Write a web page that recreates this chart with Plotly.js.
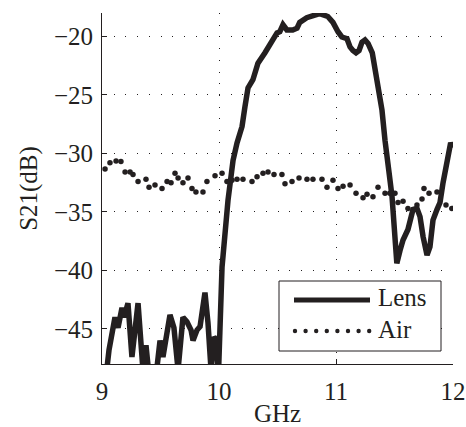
<!DOCTYPE html>
<html>
<head>
<meta charset="utf-8">
<script src="https://cdn.plot.ly/plotly-3.0.1.min.js"></script>
<style>html,body{margin:0;padding:0;background:#fff;}#chart{width:466px;height:427px;}</style>
</head>
<body>
<div id="chart"></div>
<script>
var lensX = [9.00, 9.043, 9.06, 9.111, 9.137, 9.171, 9.188, 9.222, 9.256, 9.308, 9.35, 9.376, 9.402, 9.462, 9.496, 9.521, 9.581, 9.615, 9.65, 9.692, 9.726, 9.761, 9.778, 9.812, 9.838, 9.88, 9.906, 9.932, 9.957, 9.975, 9.995, 10.026, 10.077, 10.12, 10.154, 10.197, 10.222, 10.248, 10.29, 10.333, 10.393, 10.453, 10.496, 10.52, 10.547, 10.58, 10.63, 10.667, 10.69, 10.75, 10.80, 10.86, 10.93, 10.974, 11.017, 11.05, 11.094, 11.12, 11.145, 11.171, 11.197, 11.222, 11.248, 11.274, 11.31, 11.333, 11.359, 11.393, 11.419, 11.436, 11.453, 11.479, 11.504, 11.52, 11.547, 11.573, 11.615, 11.64, 11.658, 11.692, 11.718, 11.744, 11.778, 11.803, 11.829, 11.863, 11.889, 11.915, 11.957, 11.98, 12.0];
var lensY = [-50, -48.3, -46.8, -44.0, -44.9, -43.2, -44.0, -42.8, -47.4, -42.8, -48.5, -46.4, -49, -49, -46.0, -47.4, -43.8, -44.9, -48.5, -44.0, -44.4, -45.1, -46.0, -45.1, -44.8, -41.9, -44.5, -48.5, -45.7, -45.9, -49, -39.7, -34.0, -30.6, -29.1, -27.7, -26.0, -24.4, -23.7, -22.3, -21.4, -20.3, -19.7, -19.6, -19.0, -19.45, -19.45, -19.3, -18.8, -18.4, -18.2, -18.05, -18.3, -18.8, -19.6, -20.05, -20.2, -20.9, -21.2, -21.4, -21.2, -20.5, -20.3, -20.6, -21.4, -22.6, -24.3, -26.3, -28.9, -30.6, -31.6, -33.7, -37.1, -39.4, -38.3, -37.4, -36.5, -35.4, -34.8, -34.7, -35.4, -37.1, -38.7, -38.0, -35.7, -34.8, -34.2, -32.5, -30.3, -29.1, -29.5];

var airX = [9.026, 9.068, 9.12, 9.162, 9.197, 9.24, 9.265, 9.308, 9.376, 9.402, 9.453, 9.513, 9.556, 9.59, 9.624, 9.65, 9.692, 9.735, 9.769, 9.803, 9.863, 9.897, 9.966, 10.026, 10.068, 10.111, 10.154, 10.205, 10.282, 10.325, 10.376, 10.419, 10.47, 10.538, 10.564, 10.624, 10.684, 10.752, 10.803, 10.88, 10.923, 10.974, 11.017, 11.06, 11.12, 11.171, 11.231, 11.265, 11.316, 11.359, 11.419, 11.46, 11.504, 11.53, 11.573, 11.615, 11.692, 11.735, 11.752, 11.795, 11.863, 11.94, 11.99];
var airY = [-31.33, -30.8, -30.65, -30.7, -31.6, -31.6, -31.8, -32.4, -32.2, -32.9, -32.7, -33.0, -32.4, -32.5, -31.7, -32.1, -32.5, -32.1, -33.0, -33.3, -33.3, -32.4, -31.9, -31.7, -32.4, -32.3, -32.2, -32.2, -32.4, -32.0, -31.7, -31.6, -31.8, -31.8, -32.6, -32.4, -32.1, -32.2, -32.2, -32.2, -32.9, -32.3, -33.0, -32.8, -32.7, -33.4, -33.8, -33.5, -33.7, -32.9, -33.4, -33.4, -33.4, -34.2, -34.1, -34.7, -34.4, -33.9, -33.0, -33.4, -33.3, -34.4, -34.7];

var xTicks = [9, 10, 11, 12];
var yTicks = [-45, -40, -35, -30, -25, -20];
var seriesNames = ["Lens", "Air"];
var xTitle = "GHz";
var yTitle = "S21(dB)";

var ink = "#231f20";
var font = "Liberation Serif";

var traces = [
  {x: lensX, y: lensY, name: seriesNames[0], type: "scatter", mode: "lines",
   line: {color: ink, width: 5.5}, cliponaxis: true},
  {x: airX, y: airY, name: seriesNames[1], type: "scatter", mode: "markers",
   marker: {color: ink, size: 5.5}, cliponaxis: true}
];

// legend geometry (paper coordinates; plot area is 351x351 px)
var W = 351;
function px(p) { return (p - 102) / W; }
function py(p) { return (364 - p) / W; }
var shapes = [
  {type: "rect", xref: "paper", yref: "paper", x0: px(279), x1: px(441), y0: py(351), y1: py(281),
   line: {color: ink, width: 1}, fillcolor: "#ffffff", layer: "above"},
  {type: "line", xref: "paper", yref: "paper", x0: px(294), x1: px(370), y0: py(300), y1: py(300),
   line: {color: ink, width: 5}, layer: "above"}
];
var r = 2.2 / W;
for (var i = 0; i < 8; i++) {
  var cx = px(295 + i * 10.6), cy = py(331);
  shapes.push({type: "circle", xref: "paper", yref: "paper", x0: cx - r, x1: cx + r, y0: cy - r, y1: cy + r,
    line: {width: 0}, fillcolor: ink, layer: "above"});
}
var annotations = [
  {xref: "paper", yref: "paper", x: px(376), y: py(297), xanchor: "left", yanchor: "middle", showarrow: false,
   text: seriesNames[0], font: {family: font, size: 25, color: ink}},
  {xref: "paper", yref: "paper", x: px(376), y: py(329), xanchor: "left", yanchor: "middle", showarrow: false,
   text: seriesNames[1], font: {family: font, size: 25, color: ink}}
];

var axisCommon = {
  showline: true, linecolor: ink, linewidth: 1, mirror: false,
  ticks: "inside", ticklen: 5, tickcolor: ink, tickwidth: 1,
  showgrid: true, gridcolor: ink, gridwidth: 1, griddash: "1px,10.7px",
  zeroline: false, automargin: false,
  tickfont: {family: font, size: 25, color: ink}
};

var layout = {
  width: 466, height: 427,
  margin: {l: 102, r: 13, t: 13, b: 63, pad: 0},
  paper_bgcolor: "#ffffff", plot_bgcolor: "#ffffff",
  showlegend: false,
  font: {family: font, size: 25, color: ink},
  xaxis: Object.assign({}, axisCommon, {
    range: [9, 12], tickvals: xTicks, ticktext: xTicks.map(String),
    ticklabelstandoff: 5,
    title: {text: xTitle, font: {family: font, size: 25, color: ink}, standoff: 4}
  }),
  yaxis: Object.assign({}, axisCommon, {
    range: [-48, -18], tickvals: yTicks,
    ticklabelstandoff: 3,
    title: {text: yTitle, font: {family: font, size: 25, color: ink}, standoff: 9}
  }),
  shapes: shapes,
  annotations: annotations
};

Plotly.newPlot("chart", traces, layout, {staticPlot: true, displayModeBar: false});
</script>
</body>
</html>
